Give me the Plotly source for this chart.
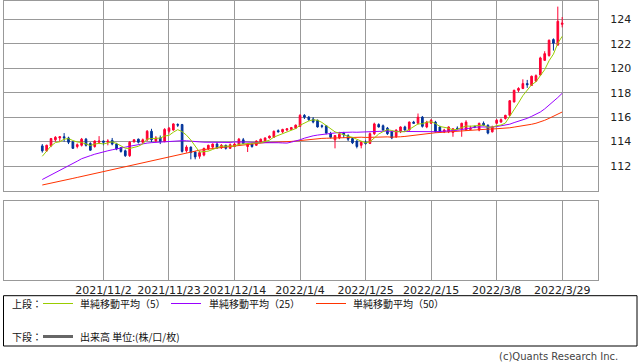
import plotly.graph_objects as go

# ---------------- data (USD/JPY daily) ----------------
n_days = 120  # trading-day index 0 = 2021/10/13 ... 119 = 2022/3/29
tick_idx = [14, 29, 44, 59, 74, 89, 104, 119]
tick_labels = ["2021/11/2", "2021/11/23", "2021/12/14", "2022/1/4",
               "2022/1/25", "2022/2/15", "2022/3/8", "2022/3/29"]
y_ticks = [112, 114, 116, 118, 120, 122, 124]

opens = [113.65, 113.25, 113.65, 114.15, 114.30, 114.40, 114.30, 113.98, 113.60, 113.70,
         114.20, 113.85, 113.60, 113.95, 114.05, 113.95, 114.10, 113.80, 113.50, 113.25,
         112.85, 114.00, 114.20, 113.95, 114.15, 114.85, 114.05, 114.30, 114.00, 114.85,
         114.95, 115.40, 115.40, 113.25, 113.55, 113.15, 112.80, 112.90, 113.40, 113.55,
         113.80, 113.50, 113.70, 113.45, 113.60, 113.75, 114.15, 113.60, 113.80, 113.70,
         113.95, 114.05, 114.30, 114.35, 114.90, 114.80, 114.95, 115.00, 115.10, 115.25,
         116.15, 116.00, 115.85, 115.75, 115.30, 115.30, 114.65, 114.15, 114.30, 114.70,
         114.50, 114.25, 114.05, 113.70, 113.95, 113.85, 114.65, 115.40, 115.30, 115.10,
         114.80, 114.40, 114.80, 115.20, 114.95, 115.60, 115.50, 116.00, 115.20, 115.50,
         115.60, 115.20, 114.80, 114.80, 114.75, 115.10, 115.05, 114.95, 115.00, 115.25,
         114.95, 115.50, 115.35, 114.80, 115.50, 115.60, 115.90, 116.15, 117.25, 118.20,
         118.35, 118.75, 118.60, 118.95, 119.45, 120.65, 121.05, 122.35, 121.90, 123.60]
highs = [113.80, 113.75, 114.30, 114.45, 114.45, 114.70, 114.40, 114.05, 113.85, 114.30,
         114.30, 113.95, 114.10, 114.45, 114.10, 114.20, 114.30, 113.90, 113.55, 113.35,
         114.05, 114.20, 114.25, 114.25, 114.95, 115.05, 114.45, 114.50, 115.10, 115.20,
         115.50, 115.50, 115.45, 113.70, 113.60, 113.20, 113.25, 113.50, 113.75, 113.85,
         113.95, 113.80, 113.75, 113.85, 113.90, 114.30, 114.30, 113.90, 113.85, 114.10,
         114.25, 114.35, 114.50, 114.90, 115.00, 115.05, 115.10, 115.20, 115.40, 116.25,
         116.25, 116.10, 116.00, 115.80, 115.40, 115.35, 114.80, 114.50, 114.80, 114.80,
         114.60, 114.35, 114.10, 114.05, 114.10, 114.75, 115.55, 115.50, 115.40, 115.20,
         114.85, 115.00, 115.25, 115.30, 115.65, 115.70, 116.30, 116.10, 115.70, 115.85,
         115.70, 115.30, 115.05, 115.25, 115.10, 115.25, 115.55, 115.75, 115.30, 115.30,
         115.55, 115.65, 115.40, 115.30, 115.85, 115.90, 116.20, 117.40, 118.25, 118.45,
         119.10, 119.05, 119.40, 119.50, 120.95, 121.40, 122.35, 122.45, 125.05, 124.20]
lows = [113.10, 113.15, 113.55, 114.00, 114.00, 114.00, 113.80, 113.40, 113.45, 113.60,
        113.60, 113.25, 113.50, 113.80, 113.70, 113.70, 113.70, 113.30, 113.10, 112.75,
        112.75, 113.90, 113.85, 113.85, 114.05, 113.95, 113.95, 113.80, 113.95, 114.65,
        114.90, 115.20, 113.10, 113.10, 112.55, 112.55, 112.60, 112.80, 113.30, 113.45,
        113.40, 113.40, 113.35, 113.40, 113.55, 113.65, 113.80, 113.15, 113.50, 113.65,
        113.90, 114.00, 114.25, 114.30, 114.75, 114.70, 114.85, 114.95, 115.05, 115.20,
        115.85, 115.70, 115.50, 115.15, 115.10, 114.60, 114.25, 113.45, 114.20, 114.30,
        114.05, 113.80, 113.45, 113.45, 113.75, 113.80, 114.55, 115.15, 114.90, 114.55,
        114.20, 114.30, 114.70, 114.90, 114.90, 115.45, 115.40, 115.15, 115.10, 115.45,
        114.75, 114.75, 114.70, 114.70, 114.40, 115.00, 114.40, 114.90, 114.95, 115.10,
        114.85, 115.30, 114.60, 114.75, 115.45, 115.55, 115.80, 116.10, 117.20, 118.05,
        118.30, 118.40, 118.55, 118.90, 119.40, 120.60, 120.95, 121.45, 121.85, 123.35]
closes = [113.25, 113.70, 114.25, 114.35, 114.40, 114.30, 113.95, 113.45, 113.75, 114.20,
          113.70, 113.30, 114.05, 114.05, 113.95, 114.05, 113.80, 113.40, 113.20, 112.85,
          113.95, 114.15, 113.95, 114.15, 114.85, 114.15, 114.30, 114.00, 115.00, 115.10,
          115.45, 115.35, 113.20, 113.55, 113.10, 112.75, 113.10, 113.45, 113.70, 113.80,
          113.50, 113.70, 113.45, 113.75, 113.80, 114.20, 113.85, 113.80, 113.60, 114.05,
          114.20, 114.30, 114.45, 114.85, 114.80, 115.00, 115.05, 115.15, 115.35, 116.15,
          116.00, 115.80, 115.60, 115.20, 115.25, 114.70, 114.35, 114.50, 114.60, 114.55,
          114.20, 113.90, 113.60, 113.95, 113.85, 114.65, 115.45, 115.20, 114.95, 114.65,
          114.30, 114.95, 115.20, 114.95, 115.60, 115.50, 116.00, 115.25, 115.60, 115.75,
          114.80, 114.80, 114.95, 115.20, 115.05, 115.05, 115.50, 115.60, 115.10, 115.20,
          115.50, 115.35, 114.70, 115.20, 115.75, 115.80, 116.15, 117.35, 118.20, 118.35,
          118.75, 118.65, 119.35, 119.40, 120.85, 121.20, 122.30, 122.05, 123.85, 123.70]

ma5_head = [112.80, 113.25, 113.65, 113.92]
ma25_head = [110.90, 111.08, 111.27, 111.45, 111.63, 111.82, 112.00, 112.20, 112.40, 112.60,
             112.75, 112.85, 112.97, 113.08, 113.17, 113.25, 113.33, 113.42, 113.48, 113.55,
             113.62, 113.70, 113.76, 113.82]
ma50_head = [110.45, 110.52, 110.60, 110.68, 110.75, 110.83, 110.91, 110.99, 111.07, 111.15,
             111.23, 111.31, 111.39, 111.47, 111.55, 111.63, 111.71, 111.79, 111.87, 111.95,
             112.03, 112.11, 112.19, 112.27, 112.35, 112.43, 112.51, 112.60, 112.69, 112.78,
             112.87, 112.96, 113.04, 113.12, 113.19, 113.25, 113.30, 113.35, 113.40, 113.44,
             113.48, 113.52, 113.56, 113.60, 113.64, 113.68, 113.72, 113.76, 113.80]


def moving_average(head, window):
    out = list(head)
    for i in range(len(head), len(closes)):
        seg = closes[i - window + 1:i + 1]
        out.append(sum(seg) / window)
    return out


ma5 = moving_average(ma5_head, 5)
ma25 = moving_average(ma25_head, 25)
ma50 = moving_average(ma50_head, 50)
xs = list(range(n_days))

# ---------------- styling ----------------
W, H = 638, 362
UP, DOWN = "#ff0033", "#003399"
C5, C25, C50 = "#99cc00", "#9900ff", "#ff3300"
GRID = "#999999"
NUMFONT = "DejaVu Sans, Noto Sans CJK JP, sans-serif"
JPFONT = "Noto Sans CJK JP, DejaVu Sans, sans-serif"


def px_x(p):
    return p / W


def px_y(p):
    return 1 - p / H


x_dom = [px_x(3.5), px_x(598)]
x_range = [-8.88, 127.2]

fig = go.Figure()
fig.add_trace(go.Candlestick(
    x=xs, open=opens, high=highs, low=lows, close=closes,
    increasing=dict(line=dict(color=UP, width=1), fillcolor=UP),
    decreasing=dict(line=dict(color=DOWN, width=1), fillcolor=DOWN),
    whiskerwidth=0, showlegend=False, xaxis="x", yaxis="y"))
for vals, col in [(ma50, C50), (ma25, C25), (ma5, C5)]:
    fig.add_trace(go.Scatter(x=xs, y=vals, mode="lines", line=dict(color=col, width=1),
                             showlegend=False, hoverinfo="skip", xaxis="x", yaxis="y"))
fig.add_trace(go.Scatter(x=[], y=[], mode="lines", showlegend=False, xaxis="x2", yaxis="y2"))

common_x = dict(domain=x_dom, range=x_range, tickvals=tick_idx, showgrid=True,
                gridcolor=GRID, gridwidth=1, showline=True, mirror=True, linecolor=GRID,
                linewidth=1, zeroline=False, ticks="", fixedrange=True)

fig.update_layout(
    width=W, height=H, margin=dict(l=0, r=0, t=0, b=0),
    paper_bgcolor="white", plot_bgcolor="white", showlegend=False, boxgap=0.45,
    xaxis=dict(**common_x, anchor="y", showticklabels=False, rangeslider=dict(visible=False)),
    yaxis=dict(domain=[px_y(190.5), px_y(0.5)], range=[110, 125.55], side="right",
               tickvals=y_ticks, showgrid=True, gridcolor=GRID, gridwidth=1,
               showline=True, mirror=True, linecolor=GRID, linewidth=1, zeroline=False,
               ticks="", ticklabelstandoff=9, tickfont=dict(family=NUMFONT, size=11, color="#222"),
               anchor="x"),
    xaxis2=dict(**common_x, anchor="y2", ticktext=tick_labels, showticklabels=True,
                tickfont=dict(family=NUMFONT, size=11, color="#222")),
    yaxis2=dict(domain=[px_y(280), px_y(201.3)], range=[0, 1], showticklabels=False,
                showgrid=False, showline=True, mirror=True, linecolor=GRID, linewidth=1,
                zeroline=False, ticks="", anchor="x2"),
)

# ---------------- legend box (custom) ----------------
shapes = [dict(type="rect", xref="paper", yref="paper", x0=px_x(3.5), x1=px_x(637),
               y0=px_y(346), y1=px_y(295.7), line=dict(color="black", width=1))]
row1, row2 = 303.5, 336.5
for x0, col in [(43, C5), (171, C25), (316, C50)]:
    shapes.append(dict(type="line", xref="paper", yref="paper", x0=px_x(x0), x1=px_x(x0 + 30),
                       y0=px_y(row1), y1=px_y(row1), line=dict(color=col, width=1)))
shapes.append(dict(type="line", xref="paper", yref="paper", x0=px_x(43), x1=px_x(73),
                   y0=px_y(row2), y1=px_y(row2), line=dict(color="#666666", width=3)))
fig.update_layout(shapes=shapes)

texts = [("上段：", 10, row1), ("単純移動平均（5）", 78, row1), ("単純移動平均（25）", 207, row1),
         ("単純移動平均（50）", 351, row1), ("下段：", 10, row2), ("出来高 単位:(株/口/枚)", 78, row2)]
for t, x, y in texts:
    fig.add_annotation(text=t, xref="paper", yref="paper", x=px_x(x), y=px_y(y),
                       xanchor="left", yanchor="middle", showarrow=False,
                       font=dict(family=JPFONT, size=10, color="#111"))
fig.add_annotation(text="(c)Quants Research Inc.", xref="paper", yref="paper", x=px_x(620),
                   y=px_y(356), xanchor="right", yanchor="middle", showarrow=False,
                   font=dict(family=NUMFONT, size=10, color="#444"))

fig.write_html("out.html")
